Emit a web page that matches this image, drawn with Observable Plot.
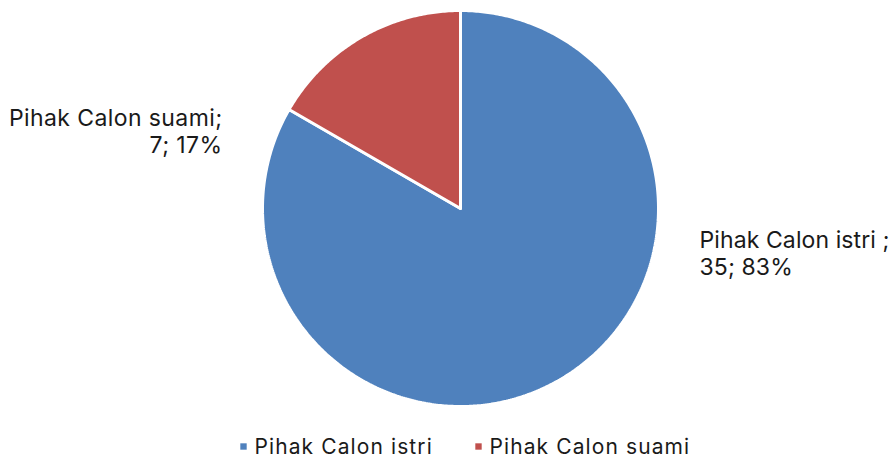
<!DOCTYPE html>
<html>
<head>
<meta charset="utf-8">
<script src="https://cdn.jsdelivr.net/npm/d3@7"></script>
<script src="https://cdn.jsdelivr.net/npm/@observablehq/plot@0.6"></script>
<style>
  html, body { margin: 0; padding: 0; background: #fff; }
  #chart svg { display: block; }
</style>
</head>
<body>
<div id="chart"></div>
<script>
const categories = ["Pihak Calon istri", "Pihak Calon suami"];
const values = [35, 7];
const labelNames = ["Pihak Calon istri ;", "Pihak Calon suami;"];
const colors = ["#4F81BD", "#C0504D"];

const W = 895, H = 460;
const cx = 460, cy = 208, R = 198;
const total = d3.sum(values);

const pie = d3.pie().sort(null).value(d => d.value)(categories.map((c, i) => ({name: c, value: values[i]})));

const slicePts = [];
for (const a of pie) {
  const n = Math.max(2, Math.ceil((a.endAngle - a.startAngle) / 0.01));
  slicePts.push({name: a.data.name, x: cx, y: cy});
  for (let k = 0; k <= n; k++) {
    const t = a.startAngle + (a.endAngle - a.startAngle) * k / n;
    slicePts.push({name: a.data.name, x: cx + R * Math.sin(t), y: cy - R * Math.cos(t)});
  }
  slicePts.push({name: a.data.name, x: cx, y: cy});
}

const labelText = categories.map((c, i) =>
  `${labelNames[i]}\n${values[i]}; ${Math.round(values[i] / total * 100)}%`);
// label placement (layout)
const rightLabel = [{text: labelText[0], x: 699, y: 252}];
const leftLabel = [{text: labelText[1], x: 222, y: 130}];

const legendPos = [243, 478];
const legendData = categories.map((c, i) => ({name: c, x: legendPos[i], y: 446}));

const spacing = (ls) => (index, scales, values, dims, context, next) => {
  const g = next(index, scales, values, dims, context);
  d3.select(g).selectAll("text").style("letter-spacing", ls + "px");
  return g;
};

const font = "Inter, Roboto, sans-serif";
const chart = Plot.plot({
  width: W, height: H,
  margin: 0,
  x: {domain: [0, W], range: [0, W], axis: null},
  y: {domain: [0, H], range: [0, H], axis: null},
  color: {domain: categories, range: colors},
  style: {fontFamily: font, background: "#fff"},
  marks: [
    Plot.line(slicePts, {x: "x", y: "y", z: "name", fill: "name", stroke: "white", strokeWidth: 3, strokeLinejoin: "miter"}),
    Plot.text(rightLabel, {x: "x", y: "y", text: "text", textAnchor: "start", lineAnchor: "middle", lineHeight: 1.17, fontSize: 23, fill: "#1a1a1a", render: spacing(0.1)}),
    Plot.text(leftLabel, {x: "x", y: "y", text: "text", textAnchor: "end", lineAnchor: "middle", lineHeight: 1.17, fontSize: 23, fill: "#1a1a1a", render: spacing(0.4)}),
    Plot.dot(legendData, {x: "x", y: "y", symbol: "square", r: 3.6, fill: "name", stroke: null}),
    Plot.text(legendData, {x: d => d.x + 11, y: "y", text: "name", textAnchor: "start", fontSize: 21, fill: "#1a1a1a", dy: 1, render: spacing(1.1)})
  ]
});
document.getElementById("chart").appendChild(chart);
</script>
</body>
</html>
